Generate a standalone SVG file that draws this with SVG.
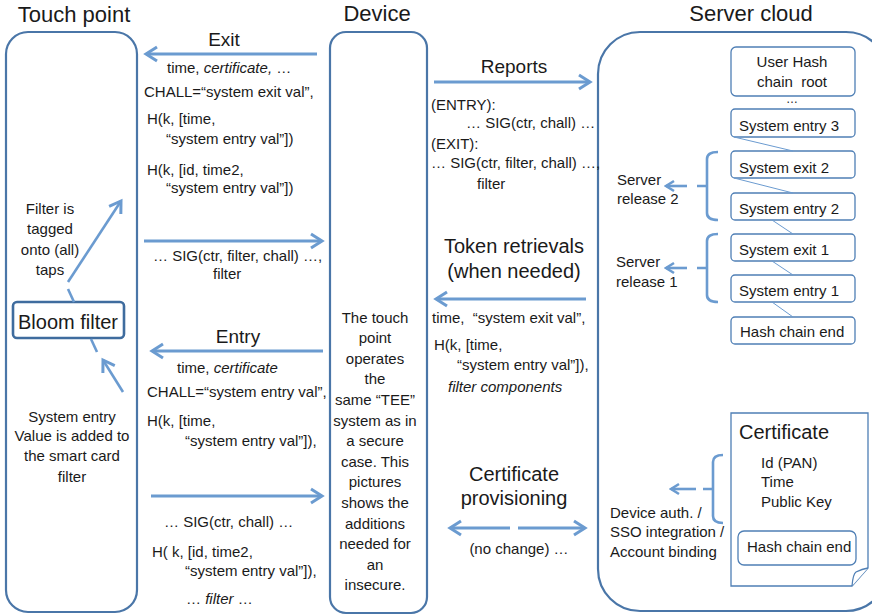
<svg xmlns="http://www.w3.org/2000/svg" width="872" height="615" viewBox="0 0 872 615">
<defs>
<style>
text{font-family:"Liberation Sans",Arial,sans-serif;fill:#1a1a1a;font-size:15px}
.t{font-size:22px}
.h{font-size:19px}
.c{text-anchor:middle}
.i{font-style:italic}
.cont{fill:#fff;stroke:#4a76a8;stroke-width:2.2}
.box{fill:#fff;stroke:#4f7fb5;stroke-width:1.3}
.arr{stroke:#6b9bd0;stroke-width:3;fill:none}
.sarr{stroke:#6b9bd0;stroke-width:2.6;fill:none}
.thin{stroke:#6b9bd0;stroke-width:1;fill:none}
</style>
<marker id="ah" markerUnits="userSpaceOnUse" markerWidth="16" markerHeight="18" viewBox="0 0 16 18" refX="13" refY="9" orient="auto">
<path d="M2,2 L13,9 L2,16" fill="none" stroke="#6b9bd0" stroke-width="3"/>
</marker>
<marker id="sh" markerUnits="userSpaceOnUse" markerWidth="12" markerHeight="14" viewBox="0 0 12 14" refX="10" refY="7" orient="auto">
<path d="M2,2 L10,7 L2,12" fill="none" stroke="#6b9bd0" stroke-width="2.6"/>
</marker>
</defs>
<rect width="872" height="615" fill="#fff"/>

<g id="touch-point">
<text class="t c" x="74" y="22">Touch point</text>
<rect class="cont" x="6" y="32" width="131" height="580" rx="22"/>
<text class="c" x="50" y="214">Filter is</text>
<text class="c" x="50" y="234">tagged</text>
<text class="c" x="50" y="255">onto (all)</text>
<text class="c" x="50" y="275">taps</text>
<text class="c" x="72" y="422">System entry</text>
<text class="c" x="72" y="441">Value is added to</text>
<text class="c" x="72" y="461">the smart card</text>
<text class="c" x="72" y="482">filter</text>
</g>

<g id="bloom-filter">
<rect x="13" y="302" width="111" height="36" rx="4" fill="#fff" stroke="#3f6c9e" stroke-width="2.6"/>
<text class="c" x="68" y="329" style="font-size:20px">Bloom filter</text>
</g>

<g id="device">
<text class="t c" x="377" y="21">Device</text>
<rect class="cont" x="330" y="32" width="97" height="581" rx="16"/>
<text class="c" x="375" y="323">The touch</text>
<text class="c" x="375" y="343">point</text>
<text class="c" x="375" y="364">operates</text>
<text class="c" x="375" y="384">the</text>
<text class="c" x="375" y="405">same “TEE”</text>
<text class="c" x="375" y="426">system as in</text>
<text class="c" x="375" y="446">a secure</text>
<text class="c" x="375" y="467">case. This</text>
<text class="c" x="375" y="487">pictures</text>
<text class="c" x="375" y="508">shows the</text>
<text class="c" x="375" y="529">additions</text>
<text class="c" x="375" y="549">needed for</text>
<text class="c" x="375" y="570">an</text>
<text class="c" x="375" y="590">insecure.</text>
</g>

<g id="server-cloud">
<text class="t c" x="751" y="21">Server cloud</text>
<rect class="cont" x="598" y="32" width="290" height="579" rx="42"/>
</g>

<g id="user-hash-chain-root">
<rect class="box" x="731" y="47" width="124" height="49" rx="5"/>
<text class="c" x="792" y="67">User Hash</text>
<text class="c" x="792" y="87" xml:space="preserve">chain  root</text>
<text class="c" x="792" y="103" style="font-size:12px">…</text>
</g>
<g id="system-entry-3">
<rect class="box" x="731" y="109" width="124" height="28" rx="4"/>
<text x="739" y="131">System entry 3</text>
</g>
<g id="system-exit-2">
<rect class="box" x="731" y="151" width="124" height="27" rx="4"/>
<text x="739" y="173">System exit 2</text>
</g>
<g id="system-entry-2">
<rect class="box" x="731" y="193" width="124" height="27" rx="4"/>
<text x="739" y="214">System entry 2</text>
</g>
<g id="system-exit-1">
<rect class="box" x="731" y="234" width="124" height="27" rx="4"/>
<text x="739" y="255">System exit 1</text>
</g>
<g id="system-entry-1">
<rect class="box" x="731" y="275" width="124" height="27" rx="4"/>
<text x="739" y="296">System entry 1</text>
</g>
<g id="hash-chain-end">
<rect class="box" x="731" y="317" width="124" height="27" rx="4"/>
<text x="740" y="337">Hash chain end</text>
</g>

<g id="server-release-2">
<text x="617" y="185">Server</text>
<text x="617" y="204">release 2</text>
</g>
<g id="server-release-1">
<text x="616" y="267">Server</text>
<text x="616" y="287">release 1</text>
</g>

<g id="certificate">
<path class="box" d="M731,413 H868 V568 L852,586 H731 Z"/>
<path class="box" d="M852,586 Q853,574 856,572 Q862,569 868,568"/>
<text x="739" y="439" style="font-size:20px">Certificate</text>
<text x="761" y="468">Id (PAN)</text>
<text x="761" y="487">Time</text>
<text x="761" y="507">Public Key</text>
<rect class="box" x="738" y="531" width="118" height="34" rx="6"/>
<text x="747" y="552">Hash chain end</text>
</g>

<g id="device-auth">
<text x="610" y="518">Device auth. /</text>
<text x="610" y="537">SSO integration /</text>
<text x="610" y="557">Account binding</text>
</g>

<g id="connectors">
<!-- Exit -->
<line class="arr" x1="317" y1="54" x2="146" y2="54" marker-end="url(#ah)"/>
<text class="h c" x="224" y="46">Exit</text>
<text x="167" y="73">time, <tspan class="i">certificate,</tspan> …</text>
<text x="144" y="97">CHALL=“system exit val”,</text>
<text x="147" y="124">H(k, [time,</text>
<text x="166" y="144">“system entry val”])</text>
<text x="147" y="175">H(k, [id, time2,</text>
<text x="166" y="193">“system entry val”])</text>

<line class="arr" x1="144" y1="241" x2="322" y2="241" marker-end="url(#ah)"/>
<text x="153" y="261">… SIG(ctr, filter, chall) …,</text>
<text x="213" y="279">filter</text>

<!-- Entry -->
<line class="arr" x1="323" y1="351" x2="152" y2="351" marker-end="url(#ah)"/>
<text class="h c" x="238" y="343">Entry</text>
<text x="177" y="373">time, <tspan class="i">certificate</tspan></text>
<text x="147" y="397">CHALL=“system entry val”,</text>
<text x="147" y="426">H(k, [time,</text>
<text x="185" y="446">“system entry val”]),</text>

<line class="arr" x1="151" y1="496" x2="322" y2="496" marker-end="url(#ah)"/>
<text x="164" y="527">… SIG(ctr, chall) …</text>
<text x="152" y="557">H( k, [id, time2,</text>
<text x="185" y="576">“system entry val”]),</text>
<text x="186" y="604">… <tspan class="i">filter</tspan> …</text>

<!-- Bloom filter links -->
<line class="arr" x1="68" y1="282" x2="121" y2="201" marker-end="url(#ah)" style="stroke-width:2.6"/>
<line class="arr" x1="68" y1="289" x2="74" y2="302" style="stroke-width:2.6"/>
<line class="arr" x1="91" y1="339" x2="97" y2="352" style="stroke-width:2.6"/>
<line class="arr" x1="123" y1="392" x2="103" y2="360" marker-end="url(#ah)" style="stroke-width:2.6"/>

<!-- Reports -->
<line class="arr" x1="434" y1="82" x2="590" y2="82" marker-end="url(#ah)"/>
<text class="h c" x="514" y="73">Reports</text>
<text x="431" y="110">(ENTRY):</text>
<text x="466" y="128">… SIG(ctr, chall) …</text>
<text x="431" y="149">(EXIT):</text>
<text x="431" y="168">… SIG(ctr, filter, chall) …,</text>
<text x="477" y="189">filter</text>

<!-- Token retrievals -->
<text class="h c" x="514" y="253" style="font-size:20px">Token retrievals</text>
<text class="h c" x="514" y="278" style="font-size:20px">(when needed)</text>
<line class="arr" x1="586" y1="299" x2="436" y2="299" marker-end="url(#ah)"/>
<text x="432" y="323" xml:space="preserve">time,  “system exit val”,</text>
<text x="434" y="350">H(k, [time,</text>
<text x="457" y="370">“system entry val”]),</text>
<text class="i" x="448" y="392">filter components</text>

<!-- Certificate provisioning -->
<text class="c" x="514" y="481" style="font-size:20px">Certificate</text>
<text class="c" x="514" y="505" style="font-size:20px">provisioning</text>
<line class="arr" x1="510" y1="528" x2="450" y2="528" marker-end="url(#ah)"/>
<line class="arr" x1="518" y1="528" x2="585" y2="528" marker-end="url(#ah)"/>
<text class="c" x="519" y="554">(no change) …</text>

<!-- Hash chain links -->
<line class="thin" x1="734" y1="137" x2="793" y2="151"/>
<line class="thin" x1="734" y1="178" x2="793" y2="193"/>
<line class="thin" x1="772" y1="220" x2="793" y2="234"/>
<line class="thin" x1="772" y1="261" x2="793" y2="275"/>
<line class="thin" x1="772" y1="302" x2="793" y2="317"/>

<!-- Brackets and release arrows -->
<path class="sarr" d="M718,152 Q707,152 707,159 V213 Q707,220 718,220 M707,186 H697"/>
<line class="sarr" x1="687" y1="186" x2="666" y2="186" marker-end="url(#sh)"/>
<path class="sarr" d="M718,234 Q707,234 707,241 V295 Q707,302 718,302 M707,268 H697"/>
<line class="sarr" x1="687" y1="268" x2="666" y2="268" marker-end="url(#sh)"/>
<path class="sarr" d="M723,455 Q713,455 713,462 V516 Q713,523 723,523 M713,489 H703"/>
<line class="sarr" x1="696" y1="489" x2="671" y2="489" marker-end="url(#sh)"/>
</g>
</svg>
